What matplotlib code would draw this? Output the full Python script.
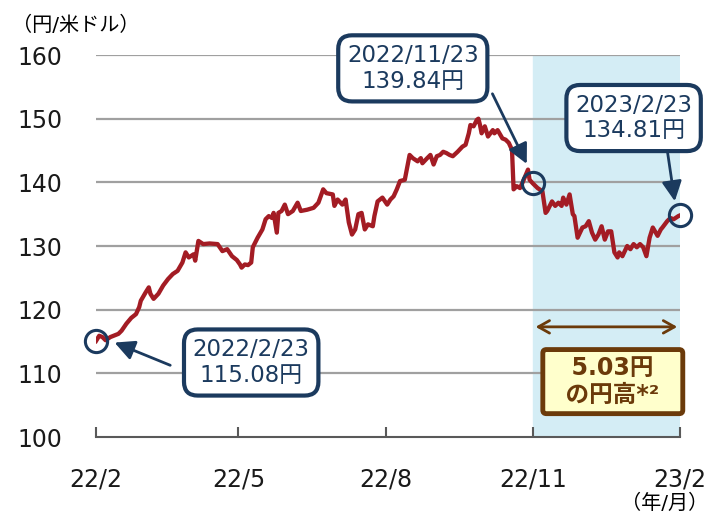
import numpy as np
import pandas as pd
import matplotlib
matplotlib.use("Agg")
import matplotlib.pyplot as plt

plt.rcParams['font.family'] = ['DejaVu Sans', 'Noto Sans CJK JP']

# 円/米ドル (2022/2/23 起点の経過日数, 値はグラフから読み取り)
start = pd.Timestamp('2022-02-23')
days = [0, 2, 4, 6, 9, 14, 16, 19, 22, 25, 27, 28, 31, 33, 34, 36, 39, 42, 45, 48,
        51, 54, 56, 58, 61, 62, 64, 67, 71, 76, 79, 82, 85, 88, 90, 91, 93, 95, 97, 98,
        99, 101, 104, 106, 108, 110, 111, 113, 114, 116, 118, 120, 123, 126, 128, 132, 136, 139, 142, 144,
        148, 149, 151, 154, 156, 158, 160, 162, 164, 166, 168, 170, 173, 174, 176, 179, 182, 184, 186, 188,
        190, 193, 195, 196, 198, 201, 203, 204, 207, 209, 211, 213, 215, 217, 219, 221, 223, 226, 229, 231,
        233, 234, 236, 238, 239, 240, 241, 243, 245, 248, 249, 251, 254, 256, 258, 260, 261, 263, 265, 267,
        270, 271, 273, 276, 279, 281, 282, 285, 287, 289, 291, 292, 294, 296, 298, 299, 301, 304, 306, 308,
        310, 312, 314, 316, 318, 320, 322, 324, 326, 327, 329, 332, 334, 336, 338, 340, 342, 344, 346, 348,
        351, 353, 354, 357, 359, 361, 364, 365]
rate = [115.08, 115.9, 115.7, 115.2, 115.7, 116.2, 116.7, 117.8, 118.7, 119.3, 120.4, 121.4, 122.7, 123.5, 122.5, 121.7, 122.5, 123.8, 124.8, 125.6,
        126.1, 127.4, 129.0, 128.2, 128.7, 127.7, 130.8, 130.3, 130.4, 130.3, 129.2, 129.5, 128.4, 127.8, 127.1, 126.6, 127.1, 127.0, 127.4, 129.8,
        130.3, 131.3, 132.6, 134.2, 134.7, 134.4, 135.2, 132.1, 135.2, 135.5, 136.5, 135.0, 135.5, 136.8, 135.5, 135.7, 136.0, 136.8, 138.9, 138.3,
        138.1, 136.3, 137.3, 136.5, 137.3, 133.7, 131.8, 132.6, 135.0, 135.2, 132.6, 133.4, 133.1, 134.7, 137.0, 137.6, 136.5, 137.3, 137.8, 138.9,
        140.2, 140.4, 143.0, 144.3, 143.8, 143.3, 143.8, 143.0, 143.8, 144.3, 142.8, 144.1, 144.3, 144.8, 144.6, 144.3, 144.1, 144.8, 145.6, 145.9,
        147.7, 149.0, 148.8, 149.8, 150.0, 149.0, 147.7, 148.8, 147.2, 148.2, 147.7, 148.2, 146.9, 146.7, 146.2, 145.1, 138.9, 139.4, 139.1, 140.2,
        142.0, 140.4, 139.84, 139.1, 138.6, 135.2, 135.5, 137.0, 136.3, 136.8, 136.3, 137.6, 136.5, 138.1, 135.0, 134.7, 131.3, 132.9, 133.1, 133.9,
        132.1, 131.0, 131.8, 133.1, 131.0, 132.3, 132.3, 129.0, 128.2, 129.0, 128.4, 130.0, 129.5, 130.3, 129.8, 130.3, 129.8, 128.4, 131.3, 132.9,
        131.6, 132.6, 132.9, 133.9, 134.4, 134.2, 134.7, 134.81]
dates = start + pd.to_timedelta(days, unit='D')

tick_dates = pd.to_datetime(['2022-02-23', '2022-05-23', '2022-08-23', '2022-11-23', '2023-02-23'])
tick_labels = ['22/2', '22/5', '22/8', '22/11', '23/2']
yticks = [100, 110, 120, 130, 140, 150, 160]

# 注目点
pts_date = pd.to_datetime(['2022-02-23', '2022-11-23', '2023-02-23'])
pts_val = [115.08, 139.84, 134.81]
pts_text = ['2022/2/23\n115.08円', '2022/11/23\n139.84円', '2023/2/23\n134.81円']

navy = '#1B3A5E'
brown = '#6B3A0A'

fig = plt.figure(figsize=(7.13, 5.15), dpi=100)
ax = fig.add_axes([96/713, 1-437/515, 584/713, 382/515])

ax.axvspan(pts_date[1], pts_date[2], color='#D4EDF5', zorder=0)
for v in yticks[1:]:
    ax.axhline(v, color='#A0A0A0', lw=1.6, zorder=1)

ax.plot(dates, rate, color='#A31C24', lw=3.1, zorder=3)

ax.set_xlim(start, pts_date[2])
ax.set_ylim(100, 160)
ax.set_yticks(yticks)
ax.set_xticks(tick_dates)
ax.set_xticklabels(tick_labels)
for s in ['left', 'right', 'top']:
    ax.spines[s].set_visible(False)
ax.spines['bottom'].set_color('#595959')
ax.spines['bottom'].set_linewidth(1.5)
ax.tick_params(axis='y', length=0, pad=24, labelsize=17, labelcolor='#1a1a1a')
ax.tick_params(axis='x', direction='in', length=7, width=1.5, color='#595959', pad=22,
               labelsize=17, labelcolor='#1a1a1a')

# 丸
ax.plot(pts_date, pts_val, 'o', ms=16, mfc='none', mec=navy, mew=2.2, zorder=5, clip_on=False)

# 吹き出し
box_pos = [(start + pd.Timedelta(days=97), 111.7),
           (start + pd.Timedelta(days=198), 157.9),
           (start + pd.Timedelta(days=336), 150.1)]
arrow_tail = [(start + pd.Timedelta(days=48), 111.1),
              (start + pd.Timedelta(days=247), 154.3),
              (start + pd.Timedelta(days=357), 145.1)]
arrow_tip = [(start + pd.Timedelta(days=10), 115.0),
             (start + pd.Timedelta(days=270), 142.5),
             (start + pd.Timedelta(days=362), 136.6)]
for txt, pos, tail, tip in zip(pts_text, box_pos, arrow_tail, arrow_tip):
    ax.annotate('', xy=tip, xytext=tail,
                arrowprops=dict(arrowstyle='-|>', color=navy, lw=2, mutation_scale=30),
                zorder=6, annotation_clip=False)
    ax.text(pos[0], pos[1], txt, ha='center', va='center', fontsize=16.5, color=navy,
            linespacing=1.15, zorder=7, clip_on=False,
            bbox=dict(boxstyle='round,pad=0.38,rounding_size=0.6', fc='white', ec=navy, lw=3))

# 円高幅
ax.annotate('', xy=(pts_date[1], 117.3), xytext=(pts_date[2], 117.3),
            arrowprops=dict(arrowstyle='<->,head_length=0.8,head_width=0.45', color=brown, lw=2),
            zorder=6)
ax.text(start + pd.Timedelta(days=323), 108.7, '  5.03円  \n  の円高*²  ', ha='center', va='center',
        fontsize=17, fontweight='bold', color=brown, linespacing=1.15, zorder=7,
        bbox=dict(boxstyle='round,pad=0.28,rounding_size=0.15', fc='#FFFFCC', ec=brown, lw=3.5))

fig.text(12/713, 1-25/515, '（円/米ドル）', fontsize=14.5, va='center', ha='left')
fig.text(708/713, 1-503/515, '（年/月）', fontsize=14.5, va='center', ha='right')

fig.savefig('out.png', dpi=100)
